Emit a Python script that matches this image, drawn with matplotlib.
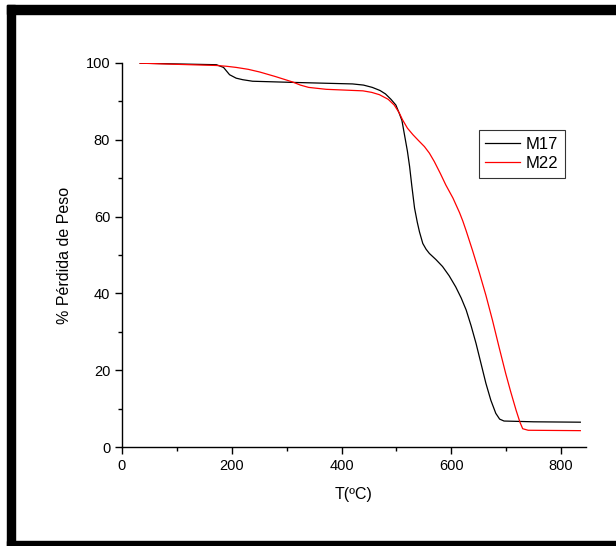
import matplotlib
matplotlib.use("Agg")
import matplotlib.pyplot as plt
from matplotlib.patches import Rectangle
from matplotlib.ticker import MultipleLocator

plt.rcParams['font.family'] = ['Liberation Sans', 'DejaVu Sans']

# TGA curves
t_m17 = [33, 100, 172, 185, 196, 208, 220, 238, 311, 420, 440, 456, 470, 480, 490,
         499, 505, 510, 515, 520, 524, 528, 533, 538, 542, 548, 554, 560, 572, 584,
         596, 608, 618, 627, 636, 645, 654, 663, 672, 681, 688, 696, 750, 835]
w_m17 = [99.9, 99.7, 99.5, 98.8, 96.9, 96.0, 95.6, 95.2, 94.9, 94.5, 94.2, 93.6, 92.8,
         91.9, 90.5, 89.0, 86.9, 85.0, 81.0, 77.0, 73.0, 68.0, 62.2, 58.5, 56.0, 53.0,
         51.5, 50.4, 48.8, 47.0, 44.6, 41.7, 38.8, 35.7, 31.6, 27.0, 21.8, 16.6, 12.2,
         8.8, 7.3, 6.8, 6.6, 6.5]

t_m22 = [33, 100, 172, 190, 208, 230, 251, 280, 311, 325, 340, 372, 439, 455, 469,
         485, 496, 505, 511, 520, 530, 540, 551, 560, 569, 580, 590, 603, 615, 621,
         627, 639, 651, 663, 675, 687, 699, 708, 718, 725, 730, 740, 835]
w_m22 = [99.9, 99.6, 99.3, 99.1, 98.8, 98.3, 97.6, 96.4, 95.0, 94.2, 93.6, 93.1, 92.7,
         92.3, 91.7, 90.5, 89.0, 87.0, 85.2, 83.0, 81.3, 79.8, 78.2, 76.5, 74.3, 71.2,
         68.2, 64.8, 61.0, 58.8, 56.3, 51.0, 45.4, 39.5, 33.0, 26.0, 19.2, 14.5, 9.6,
         6.5, 4.8, 4.4, 4.3]

fig = plt.figure(figsize=(6.16, 5.46), dpi=100)
ax = fig.add_axes([0.198, 0.181, 0.753, 0.704])

ax.plot(t_m17, w_m17, color='black', lw=0.9, label='M17')
ax.plot(t_m22, w_m22, color='red', lw=0.9, label='M22')

ax.set_xlim(0, 845)
ax.set_ylim(0, 100)
ax.xaxis.set_major_locator(MultipleLocator(200))
ax.xaxis.set_minor_locator(MultipleLocator(100))
ax.yaxis.set_major_locator(MultipleLocator(20))
ax.yaxis.set_minor_locator(MultipleLocator(10))
ax.tick_params(which='major', length=5, width=1, labelsize=10.5, direction='out')
ax.tick_params(which='minor', length=3, width=1, direction='out')
for s in ['top', 'right']:
    ax.spines[s].set_visible(False)
for s in ['left', 'bottom']:
    ax.spines[s].set_linewidth(1)

ax.set_xlabel('T(ºC)', fontsize=11.5, labelpad=10)
ax.set_ylabel('% Pérdida de Peso', fontsize=11.5, labelpad=10)

leg = ax.legend(loc='upper left', bbox_to_anchor=(0.769, 0.825), fontsize=12,
                frameon=True, fancybox=False, handlelength=2.1, borderpad=0.4,
                labelspacing=0.25, handletextpad=0.3, borderaxespad=0)
leg.get_frame().set_edgecolor('black')
leg.get_frame().set_linewidth(0.8)

# thick black frame round the picture (right side cut off)
W, H = 616, 546
fig.patches.append(Rectangle((7 / W, 1 - 14 / H), 1 - 7 / W, 9 / H, transform=fig.transFigure,
                             color='black', zorder=10))
fig.patches.append(Rectangle((7 / W, 0), 8 / W, 1 - 5 / H, transform=fig.transFigure,
                             color='black', zorder=10))
fig.patches.append(Rectangle((7 / W, 0), 1 - 7 / W, 5 / H, transform=fig.transFigure,
                             color='black', zorder=10))

fig.savefig('out.png', dpi=100)
